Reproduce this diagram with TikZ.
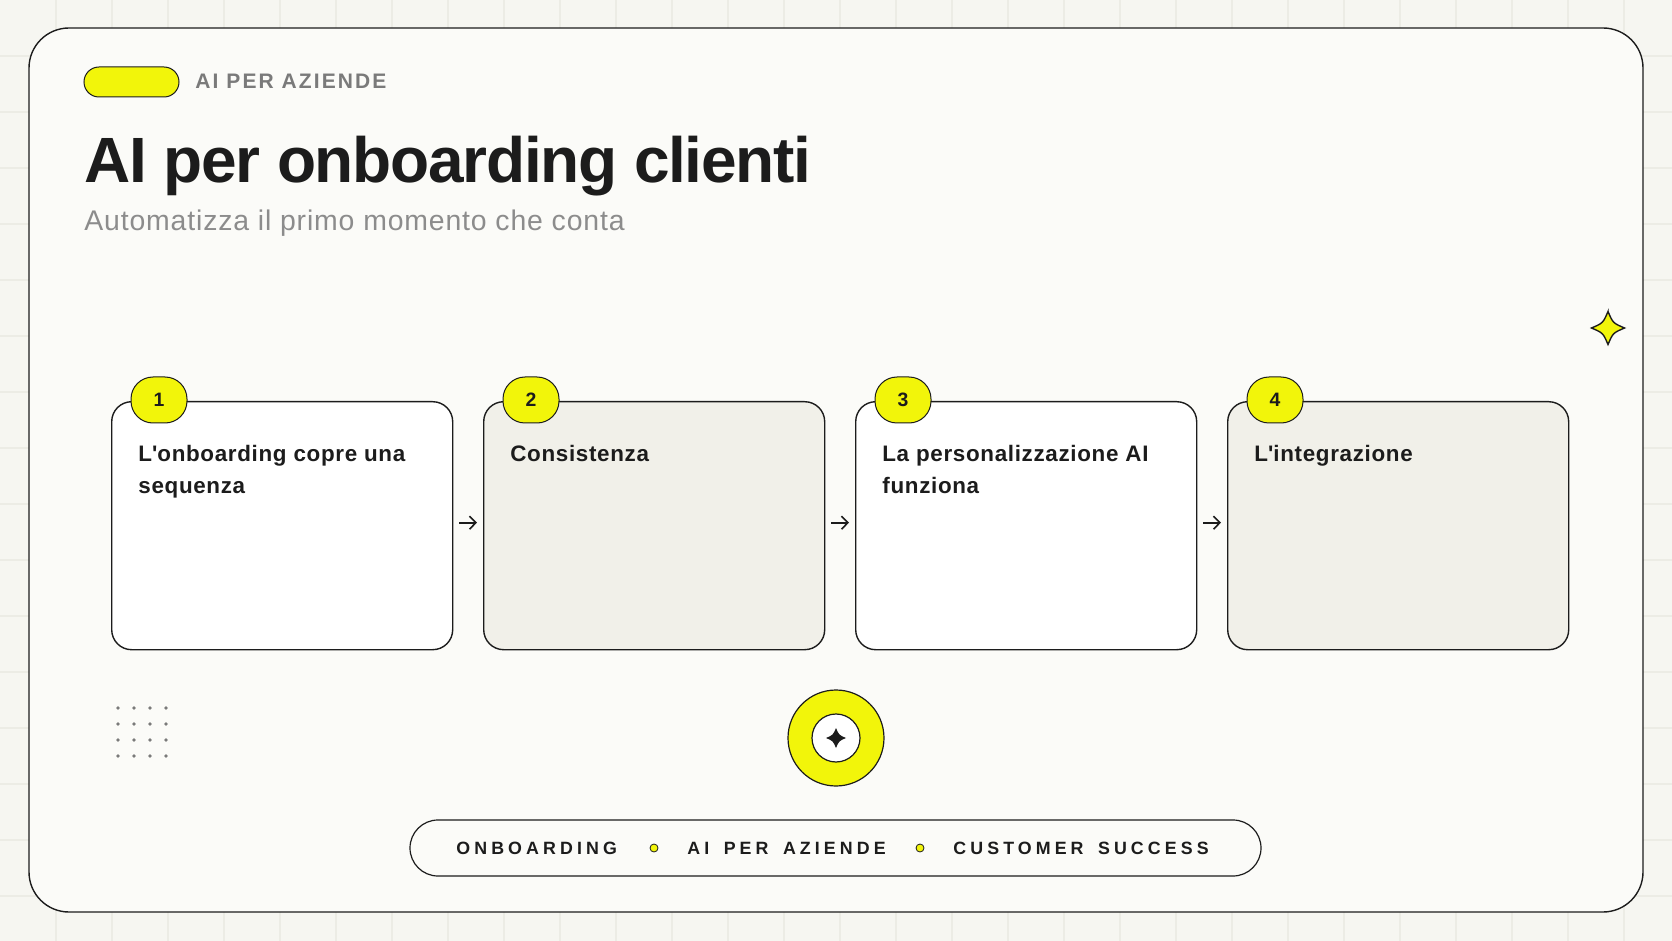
\documentclass[tikz,border=0pt]{standalone}
\usepackage{fontspec}
\setmainfont{Liberation Sans}
\newfontfamily\titlefont[LetterSpace=-2]{Liberation Sans}
\newfontfamily\kickerfont[LetterSpace=10]{Liberation Sans}
\newfontfamily\bodyfont[LetterSpace=3]{Liberation Sans}
\newfontfamily\barfont[LetterSpace=23, WordSpace=1.6]{Liberation Sans}
\usetikzlibrary{arrows.meta, positioning}
\definecolor{pagebg}{HTML}{F6F6F1}
\definecolor{gridcol}{HTML}{ECECE5}
\definecolor{cardbg}{HTML}{FBFBF8}
\definecolor{sand}{HTML}{F1F0E9}
\definecolor{ink}{HTML}{1C1C1C}
\definecolor{mute}{HTML}{7A7A7A}
\definecolor{subgray}{HTML}{8C8C8C}
\definecolor{lemon}{HTML}{F2F50A}

\tikzset{
  gridline/.style={draw=gridcol, line width=0.6pt},
  frame/.style={draw=ink, line width=0.7pt, fill=cardbg, rounded corners=20pt},
  stepcard/.style={draw=ink, line width=0.7pt, rounded corners=10pt, anchor=north west,
    minimum width=170.5pt, minimum height=124pt, inner sep=0pt},
  badge/.style={draw=ink, line width=0.5pt, fill=lemon, rounded corners=11pt,
    minimum width=28pt, minimum height=23pt, inner sep=0pt, text=ink,
    font=\bfseries\fontsize{9.7}{11}\selectfont},
  cardtext/.style={anchor=north west, align=left, inner sep=0pt, text=ink,
    font=\bodyfont\bfseries\fontsize{11.2}{16}\selectfont},
  flow/.style={draw=ink, line width=0.8pt, shorten <=3pt, shorten >=3pt,
    -{Straight Barb[length=3.2pt, width=6.5pt]}},
  bartext/.style={anchor=base west, inner sep=0pt, text=ink,
    font=\barfont\bfseries\fontsize{8.9}{10}\selectfont},
  ydot/.style={circle, draw=ink, line width=0.4pt, fill=lemon, minimum size=4pt, inner sep=0pt},
  sparkle/.pic={
    \path[pic actions] (0,-1) .. controls (0.3,-0.3) .. (1,0)
      .. controls (0.3,0.3) .. (0,1) .. controls (-0.3,0.3) .. (-1,0)
      .. controls (-0.3,-0.3) .. cycle;
  }
}

\begin{document}
\begin{tikzpicture}[x=0.5pt, y=-0.5pt, >=Stealth]
  \useasboundingbox (0,0) rectangle (1672,941);

  % sfondo a griglia
  \fill[pagebg] (0,0) rectangle (1672,941);
  \foreach \g in {56,112,...,1624} \draw[gridline] (\g,0) -- (\g,941);
  \foreach \g in {56,112,...,896} \draw[gridline] (0,\g) -- (1672,\g);

  % scheda
  \draw[frame] (29,28) rectangle (1643,912);

  % intestazione
  \draw[draw=ink, line width=0.5pt, fill=lemon, rounded corners=7.5pt] (84,67) rectangle (179,97);
  \node[anchor=base west, inner sep=0pt, text=mute, font=\kickerfont\bfseries\fontsize{10.5}{12}\selectfont]
    (kicker) at (195,89) {AI PER AZIENDE};
  \node[anchor=base west, inner sep=0pt, text=ink, font=\titlefont\bfseries\fontsize{32}{38}\selectfont]
    (title) at (84,183) {AI per onboarding clienti};
  \node[anchor=base west, inner sep=0pt, text=subgray, font=\bodyfont\fontsize{14.2}{17}\selectfont]
    (subtitle) at (84,231) {Automatizza il primo momento che conta};

  % fasi
  \foreach \i/\x/\col/\txt in {1/111/white/{L\textquotesingle onboarding copre una\\sequenza},
                               2/483/sand/{Consistenza},
                               3/855/white/{La personalizzazione AI\\funziona},
                               4/1227/sand/{L\textquotesingle integrazione}} {
    \node[stepcard, fill=\col] (c\i) at (\x,401) {};
    \node[badge] (b\i) at (\x+48,400) {\i};
    \node[cardtext] (t\i) at (\x+27,444.5) {\txt};
  }
  \foreach \a/\b in {1/2, 2/3, 3/4}
    \draw[flow] ([yshift=1.5pt]c\a.east) -- ([yshift=1.5pt]c\b.west);

  % stella
  \pic[draw=ink, fill=lemon, line width=0.7pt, scale=16.5] (star) at (1608,328) {sparkle};

  % puntini
  \foreach \i in {0,...,3}
    \foreach \j in {0,...,3}
      \fill[mute] (118+16*\i, 708+16*\j) circle[radius=0.95pt];

  % cerchio centrale
  \node[circle, draw=ink, line width=0.6pt, fill=lemon, minimum size=48pt, inner sep=0pt] (hub) at (836,738) {};
  \node[circle, draw=ink, line width=0.6pt, fill=white, minimum size=24pt, inner sep=0pt] (core) at (hub) {};
  \pic[fill=ink, scale=10] at (hub) {sparkle};

  % barra tag
  \node[draw=ink, line width=0.6pt, fill=cardbg, rounded corners=14pt, minimum width=425.5pt,
    minimum height=28pt, inner sep=0pt] (bar) at (835.5,848) {};
  \node[bartext] (w1) at (456,854.5) {ONBOARDING};
  \node[ydot] (d1) at (654,848) {};
  \node[bartext] (w2) at (687,854.5) {AI PER AZIENDE};
  \node[ydot] (d2) at (920,848) {};
  \node[bartext] (w3) at (953,854.5) {CUSTOMER SUCCESS};
\end{tikzpicture}
\end{document}
